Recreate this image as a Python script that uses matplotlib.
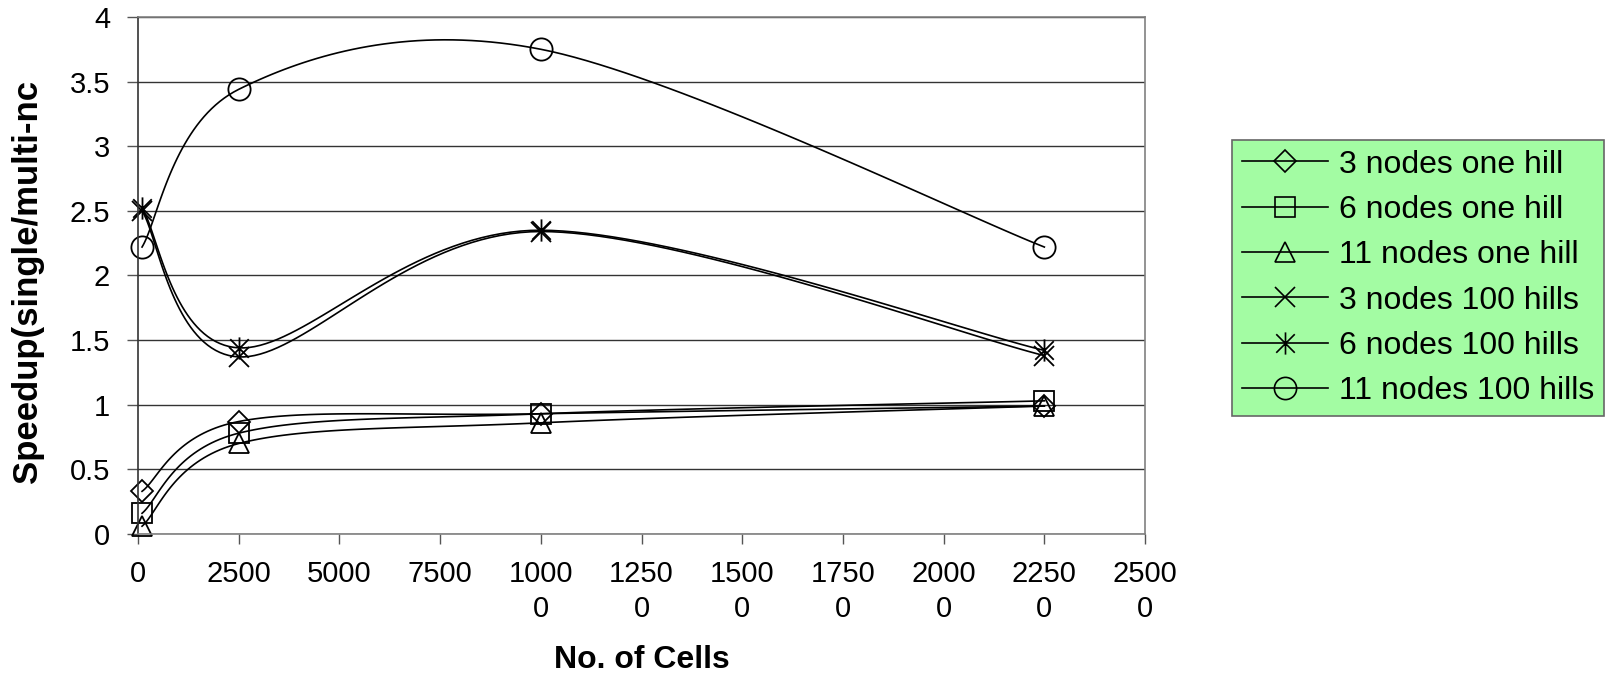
import numpy as np
import matplotlib
matplotlib.use('Agg')
import matplotlib.pyplot as plt
from matplotlib.path import Path

plt.rcParams['font.family'] = ['Liberation Sans', 'DejaVu Sans']

# data
cells = [100, 2500, 10000, 22500]
series_names = ["3 nodes one hill", "6 nodes one hill", "11 nodes one hill",
                "3 nodes 100 hills", "6 nodes 100 hills", "11 nodes 100 hills"]
three_one = [0.33, 0.87, 0.93, 0.99]
six_one = [0.16, 0.78, 0.93, 1.03]
eleven_one = [0.06, 0.70, 0.86, 0.99]
three_100 = [2.50, 1.37, 2.34, 1.38]
six_100 = [2.52, 1.44, 2.35, 1.42]
eleven_100 = [2.22, 3.44, 3.75, 2.22]

x_ticks = [0, 2500, 5000, 7500, 10000, 12500, 15000, 17500, 20000, 22500, 25000]
x_ticklabels = ["0", "2500", "5000", "7500", "1000\n0", "1250\n0", "1500\n0",
                "1750\n0", "2000\n0", "2250\n0", "2500\n0"]
y_ticks = [0, 0.5, 1, 1.5, 2, 2.5, 3, 3.5, 4]
y_ticklabels = ["0", "0.5", "1", "1.5", "2", "2.5", "3", "3.5", "4"]


def excel_smooth(xs, ys, n=40):
    # bezier smoothing like excel's "smoothed line"
    xs = np.asarray(xs, float)
    ys = np.asarray(ys, float)
    px = np.concatenate([[xs[0]], xs, [xs[-1]]])
    py = np.concatenate([[ys[0]], ys, [ys[-1]]])
    out_x, out_y = [], []
    t = np.linspace(0, 1, n)
    for i in range(1, len(px) - 2):
        p0 = np.array([px[i], py[i]])
        p3 = np.array([px[i + 1], py[i + 1]])
        c1 = p0 + (np.array([px[i + 1], py[i + 1]]) - np.array([px[i - 1], py[i - 1]])) / 6
        c2 = p3 - (np.array([px[i + 2], py[i + 2]]) - np.array([px[i], py[i]])) / 6
        b = ((1 - t) ** 3)[:, None] * p0 + (3 * (1 - t) ** 2 * t)[:, None] * c1 \
            + (3 * (1 - t) * t ** 2)[:, None] * c2 + (t ** 3)[:, None] * p3
        out_x.extend(b[:, 0])
        out_y.extend(b[:, 1])
    return out_x, out_y


# asterisk marker: x plus a vertical stroke
star_path = Path(
    [(-0.5, -0.5), (0.5, 0.5), (-0.5, 0.5), (0.5, -0.5), (0, -0.6), (0, 0.6)],
    [Path.MOVETO, Path.LINETO, Path.MOVETO, Path.LINETO, Path.MOVETO, Path.LINETO])

values = [three_one, six_one, eleven_one, three_100, six_100, eleven_100]
markers = ['D', 's', '^', 'x', star_path, 'o']
msizes = [11, 14, 15, 14, 16, 16]

fig = plt.figure(figsize=(16.18, 6.76), dpi=100)
ax = fig.add_axes([0.0853, 0.2101, 0.6224, 0.7648])

for name, vals, mk, ms in zip(series_names, values, markers, msizes):
    sx, sy = excel_smooth(cells, vals)
    ax.plot(sx, sy, color='black', linewidth=1.2, clip_on=False)
    ax.plot(cells, vals, linestyle='none', marker=mk, markersize=ms,
            markerfacecolor='none', markeredgecolor='black', markeredgewidth=1.3,
            clip_on=False)
    # proxy for the legend
    ax.plot([], [], color='black', linewidth=1.2, marker=mk, markersize=ms,
            markerfacecolor='none', markeredgecolor='black', markeredgewidth=1.2,
            label=name)

ax.set_xlim(0, 25000)
ax.set_ylim(0, 4)
ax.set_xticks(x_ticks)
ax.set_xticklabels(x_ticklabels, linespacing=1.3)
ax.set_yticks(y_ticks)
ax.set_yticklabels(y_ticklabels)
ax.tick_params(axis='x', direction='out', length=7, width=1, color='#555555',
               labelsize=21, pad=12)
ax.tick_params(axis='y', direction='out', length=8, width=1, color='#555555',
               labelsize=21, pad=12)

ax.yaxis.grid(True, color='#333333', linewidth=1)
ax.set_axisbelow(True)
for side in ['top', 'right', 'bottom']:
    ax.spines[side].set_color('#808080')
    ax.spines[side].set_linewidth(1.2)
ax.spines['left'].set_color('#333333')
ax.spines['left'].set_linewidth(1.2)

fig.text(0.0173, 0.584, "Speedup(single/multi-nc", rotation=90, fontsize=25,
         fontweight='bold', ha='center', va='center')
fig.text(642 / 1618, 1 - 660 / 676, "No. of Cells", fontsize=23,
         fontweight='bold', ha='center', va='center')

handles, labels = ax.get_legend_handles_labels()
leg = fig.legend(handles, labels, loc='upper left',
                 bbox_to_anchor=(1232 / 1618, 1 - 140 / 676),
                 fontsize=23, frameon=True, fancybox=False, borderaxespad=0,
                 handlelength=2.7, handletextpad=0.35, labelspacing=0.48,
                 borderpad=0.3)
frame = leg.get_frame()
frame.set_facecolor('#A3FCA3')
frame.set_edgecolor('#666666')
frame.set_linewidth(1.2)
frame.set_alpha(1)

fig.savefig('out.png', dpi=100)
